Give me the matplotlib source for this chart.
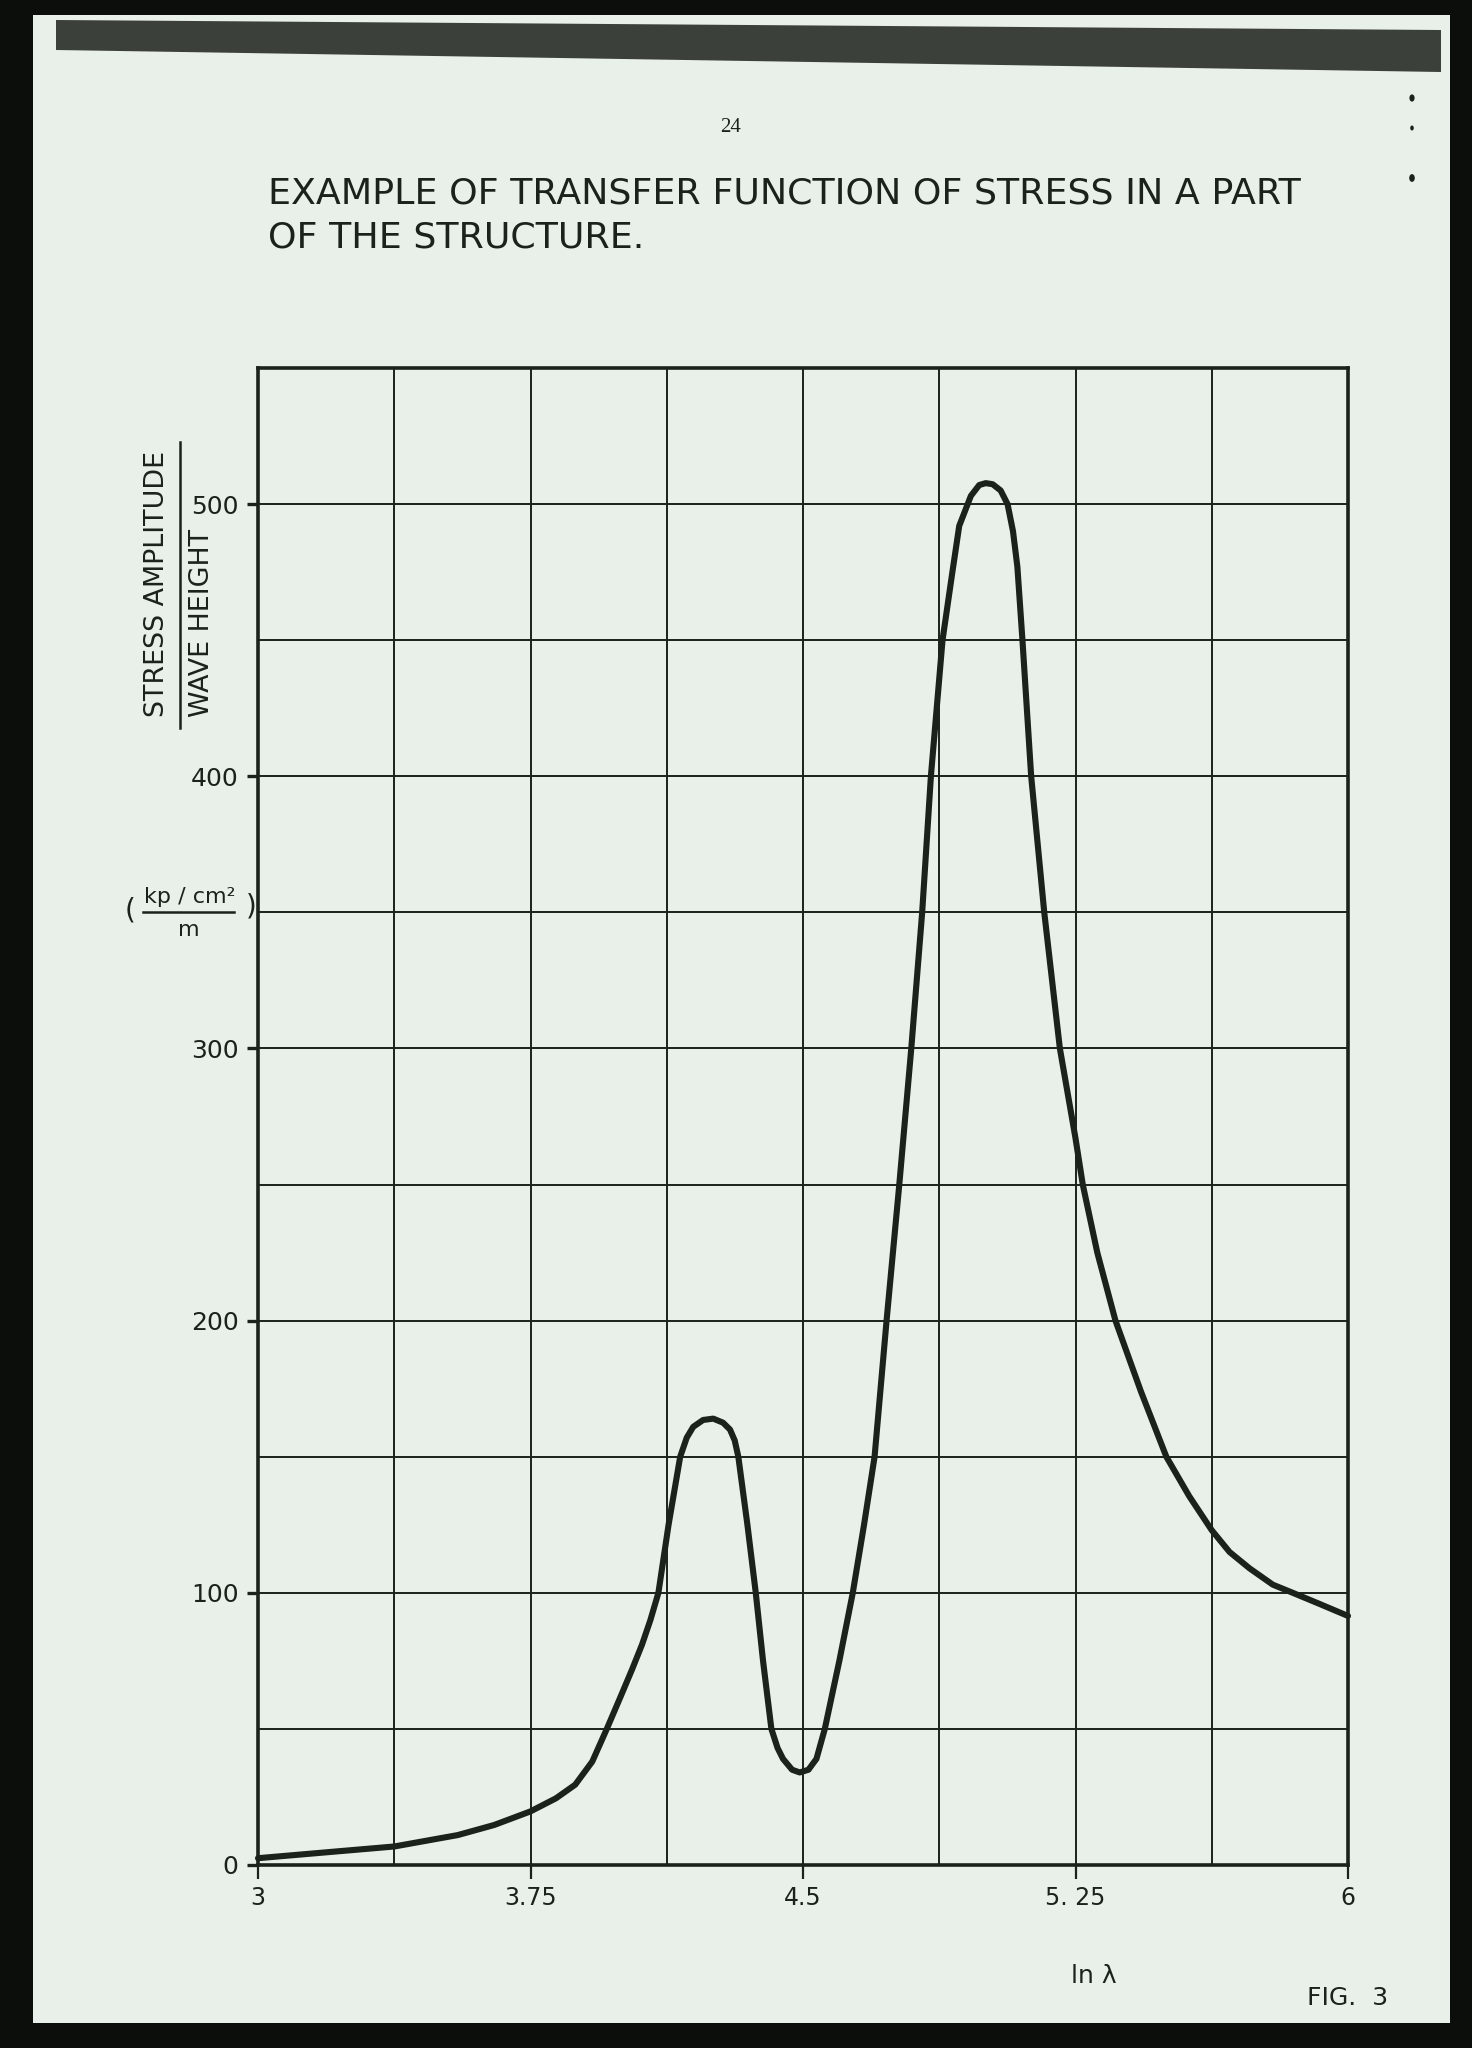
"""
Transfer function of stress (scanned report page, FIG. 3) redrawn with matplotlib.
"""

import numpy as np
import matplotlib
matplotlib.use("Agg")
import matplotlib.pyplot as plt
from matplotlib.patches import Rectangle, Polygon, Circle
from matplotlib.lines import Line2D

# ----------------------------------------------------
# Data
# ----------------------------------------------------
ln_lambda = [3.00, 3.20, 3.375, 3.55, 3.65, 3.75, 3.82, 3.873, 3.92, 3.96, 4.00,
             4.03, 4.057, 4.080, 4.102, 4.130, 4.162, 4.180, 4.198, 4.225, 4.253,
             4.280, 4.299, 4.312, 4.322, 4.347, 4.370, 4.390, 4.413, 4.430, 4.445,
             4.470, 4.491, 4.515, 4.537, 4.560, 4.600, 4.637, 4.668, 4.697, 4.730,
             4.765, 4.798, 4.828, 4.852, 4.884, 4.910, 4.930, 4.962, 4.985, 5.003,
             5.022, 5.044, 5.063, 5.078, 5.090, 5.104, 5.128, 5.164, 5.207, 5.250,
             5.270, 5.310, 5.360, 5.430, 5.500, 5.563, 5.625, 5.674, 5.729, 5.793,
             5.848, 5.922, 6.00]
stress_per_wave = [2.5, 4.8, 6.8, 11.0, 14.7, 19.7, 24.5, 29.5, 38.0, 50.0, 62.5,
                   72.0, 81.0, 90.0, 100.0, 125.0, 150.0, 157.0, 161.0, 163.5, 164.0,
                   162.5, 160.0, 156.0, 150.0, 125.0, 100.0, 75.0, 50.0, 43.0, 39.0,
                   35.0, 34.0, 35.0, 39.0, 50.0, 75.0, 100.0, 125.0, 150.0, 200.0,
                   250.0, 300.0, 350.0, 400.0, 450.0, 474.0, 492.0, 503.0, 507.0, 507.7,
                   507.3, 505.0, 500.0, 490.0, 477.0, 450.0, 400.0, 350.0, 300.0, 267.0,
                   250.0, 225.0, 200.0, 174.0, 150.0, 135.5, 123.0, 115.0, 109.0, 103.0,
                   100.0, 95.9, 91.5]

x_ticks = [3, 3.75, 4.5, 5.25, 6]
x_tick_labels = ["3", "3.75", "4.5", "5. 25", "6"]
x_grid = np.arange(3, 6.001, 0.375)
y_ticks = [0, 100, 200, 300, 400, 500]
y_tick_labels = ["0", "100", "200", "300", "400", "500"]
y_grid = np.arange(0, 551, 50)

# ----------------------------------------------------
# Page look
# ----------------------------------------------------
W, H = 1472, 2048
PAPER = "#e9efe9"
INK = "#1b211b"


def fx(px):
    return px / W


def fy(py):
    return 1 - py / H


fig = plt.figure(figsize=(W / 100, H / 100), dpi=100, facecolor="#0c0e0c")

# paper sheet and the dark scanned strip on top
fig.patches.append(Rectangle((fx(33), fy(2023)), fx(1450) - fx(33), fy(15) - fy(2023),
                             transform=fig.transFigure, facecolor=PAPER,
                             edgecolor="none", zorder=-2))
fig.patches.append(Polygon([(fx(56), fy(20)), (fx(1441), fy(30)), (fx(1441), fy(72)),
                            (fx(56), fy(50))], closed=True, transform=fig.transFigure,
                           facecolor="#3b403b", edgecolor="none", zorder=-1))
# punch marks on the right margin
for py, r in [(98, 2.6), (128, 1.8), (178, 2.8)]:
    fig.patches.append(Circle((fx(1412), fy(py)), r / W, transform=fig.transFigure,
                              facecolor=INK, edgecolor="none", zorder=-1))

# ----------------------------------------------------
# Axes
# ----------------------------------------------------
left, right, top, bottom = 258, 1348, 368, 1865
ax = fig.add_axes([fx(left), fy(bottom), fx(right) - fx(left), fy(top) - fy(bottom)])
ax.set_zorder(2)
ax.set_facecolor("none")
ax.set_xlim(3, 6)
ax.set_ylim(0, 550)

for v in x_grid:
    ax.axvline(v, color=INK, lw=1.4, zorder=1)
for v in y_grid:
    ax.axhline(v, color=INK, lw=1.4, zorder=1)

ax.plot(ln_lambda, stress_per_wave, color=INK, lw=4.4, solid_joinstyle="round",
        solid_capstyle="round", zorder=3, clip_on=False)

for s in ax.spines.values():
    s.set_linewidth(2.6)
    s.set_color(INK)

ax.set_xticks(x_ticks)
ax.set_xticklabels(x_tick_labels)
ax.set_yticks(y_ticks)
ax.set_yticklabels(y_tick_labels)
ax.tick_params(axis="x", direction="out", length=10, width=1.6, pad=5,
               labelsize=17, colors=INK)
ax.tick_params(axis="y", direction="out", length=8, width=2.4, pad=6,
               labelsize=18, colors=INK)

# ----------------------------------------------------
# Texts
# ----------------------------------------------------
fig.text(fx(731), fy(127), "24", ha="center", va="center", fontsize=15,
         family="Liberation Serif", color=INK)

title_1 = fig.text(fx(268), fy(193), "EXAMPLE OF TRANSFER FUNCTION OF STRESS IN A PART",
                   ha="left", va="center", fontsize=20, color=INK)
title_2 = fig.text(fx(268), fy(237), "OF THE STRUCTURE.", ha="left", va="center",
                   fontsize=20, color=INK)

# fit title width to the page
renderer = fig.canvas.get_renderer()
w1 = title_1.get_window_extent(renderer).width
size = 20 * 1032 / w1
title_1.set_fontsize(size)
title_2.set_fontsize(size)

# y label as a fraction, rotated
lab_top = fig.text(fx(157), fy(717), "STRESS AMPLITUDE", rotation=90, ha="center",
                   va="bottom", fontsize=17, color=INK)
lab_bot = fig.text(fx(202), fy(717), "WAVE HEIGHT", rotation=90, ha="center",
                   va="bottom", fontsize=17, color=INK)
h1 = lab_top.get_window_extent(renderer).height
lab_top.set_fontsize(17 * 268 / h1)
lab_bot.set_fontsize(17 * 268 / h1)
fig.add_artist(Line2D([fx(180), fx(180)], [fy(442), fy(728)], transform=fig.transFigure,
                      color=INK, lw=1.8))

# units
fig.text(fx(190), fy(897), "kp / cm²", ha="center", va="center", fontsize=16, color=INK)
fig.add_artist(Line2D([fx(143), fx(234)], [fy(912), fy(912)], transform=fig.transFigure,
                      color=INK, lw=1.8))
fig.text(fx(189), fy(930), "m", ha="center", va="center", fontsize=16, color=INK)
fig.text(fx(130), fy(911), "(", ha="center", va="center", fontsize=20, color=INK)
fig.text(fx(251), fy(906), ")", ha="center", va="center", fontsize=20, color=INK)

fig.text(fx(1094), fy(1976), "ln λ", ha="center", va="center", fontsize=18, color=INK)
fig.text(fx(1388), fy(1998), "FIG.  3", ha="right", va="center", fontsize=18, color=INK)

fig.savefig("out.png", dpi=100, facecolor=fig.get_facecolor())
print("saved out.png")
